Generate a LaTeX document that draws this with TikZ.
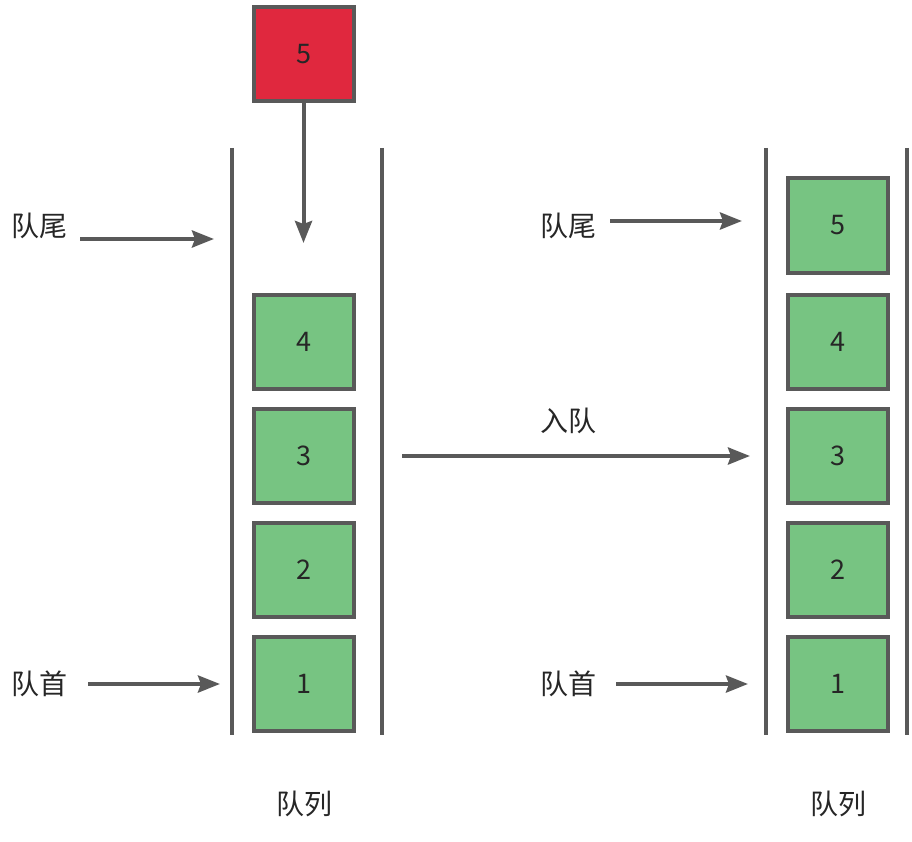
\documentclass[tikz,border=0pt]{standalone}
\usepackage{fontspec}
\setmainfont{Noto Sans CJK SC}
\usetikzlibrary{arrows.meta}
\definecolor{edge}{HTML}{595959}
\definecolor{gfill}{HTML}{77C482}
\definecolor{rfill}{HTML}{E0283E}
\tikzset{
  box/.style={draw=edge, line width=4pt, minimum width=100pt, minimum height=94pt, inner sep=0pt, font=\fontsize{27}{30}\selectfont, text=black!85},
  gbox/.style={box, fill=gfill},
  rbox/.style={box, fill=rfill},
  wall/.style={draw=edge, line width=4pt},
  arr/.style={draw=edge, line width=4pt, -{Stealth[length=22pt,width=17pt,inset=3pt]}},
  lbl/.style={font=\fontsize{28}{32}\selectfont, text=black!85, inner sep=0pt},
}
\begin{document}
\begin{tikzpicture}[x=1pt,y=-1pt]
\useasboundingbox (0,0) rectangle (912,842);
% left queue
\node[rbox] (r5) at (303.5,54) {5};
\node[gbox] (l4) at (303.5,341.5) {4};
\node[gbox] (l3) at (303.5,456) {3};
\node[gbox] (l2) at (303.5,569.5) {2};
\node[gbox] (l1) at (303.5,684) {1};
\coordinate (lwa) at (232,148); \coordinate (lwb) at (232,735);
\coordinate (lwc) at (382,148); \coordinate (lwd) at (382,735);
\draw[wall] (lwa) -- (lwb);
\draw[wall] (lwc) -- (lwd);
\coordinate (drop) at (303.5,243);
\draw[arr] (r5.south) -- (drop);
\node[lbl] (ltail) at (40,226) {队尾};
\coordinate (ltails) at (80,239); \coordinate (ltaile) at (214,239);
\draw[arr] (ltails) -- (ltaile);
\node[lbl] (lhead) at (40,684) {队首};
\coordinate (lheads) at (88,684); \coordinate (lheade) at (220,684);
\draw[arr] (lheads) -- (lheade);
\node[lbl] (lq) at (304,804) {队列};
% middle
\node[lbl] (enq) at (568,421) {入队};
\coordinate (ms) at (402,456); \coordinate (me) at (750,456);
\draw[arr] (ms) -- (me);
% right queue
\node[gbox] (q5) at (838,225.5) {5};
\node[gbox] (q4) at (838,341.5) {4};
\node[gbox] (q3) at (838,456) {3};
\node[gbox] (q2) at (838,569.5) {2};
\node[gbox] (q1) at (838,684) {1};
\coordinate (rwa) at (766,148); \coordinate (rwb) at (766,735);
\coordinate (rwc) at (907,148); \coordinate (rwd) at (907,735);
\draw[wall] (rwa) -- (rwb);
\draw[wall] (rwc) -- (rwd);
\node[lbl] (rtail) at (568,226) {队尾};
\coordinate (rtails) at (610,221); \coordinate (rtaile) at (742,221);
\draw[arr] (rtails) -- (rtaile);
\node[lbl] (rhead) at (568,684) {队首};
\coordinate (rheads) at (616,684); \coordinate (rheade) at (748,684);
\draw[arr] (rheads) -- (rheade);
\node[lbl] (rq) at (838,804) {队列};
\end{tikzpicture}
\end{document}
